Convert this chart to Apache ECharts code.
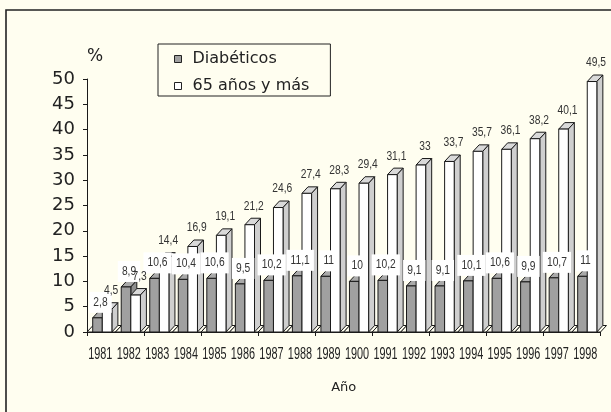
<!DOCTYPE html>
<html>
<head>
<meta charset="utf-8">
<script src="https://cdn.jsdelivr.net/npm/echarts@6/dist/echarts.min.js"></script>
<style>
  html, body { margin: 0; padding: 0; background: #fffef0; }
  #chart { width: 611px; height: 412px; }
</style>
</head>
<body>
<div id="chart"></div>
<script>
// Categories (year labels as printed on the axis)
const years = ['1981', '1982', '1983', '1984', '1985', '1986', '1987', '1988', '1989',
               '1900', '1991', '1992', '1993', '1994', '1995', '1996', '1997', '1998'];
// Percentages per year
const diabeticos = [2.8, 8.9, 10.6, 10.4, 10.6, 9.5, 10.2, 11.1, 11, 10,
                    10.2, 9.1, 9.1, 10.1, 10.6, 9.9, 10.7, 11];
const mayores65 = [4.5, 7.3, 14.4, 16.9, 19.1, 21.2, 24.6, 27.4, 28.3, 29.4,
                   31.1, 33, 33.7, 35.7, 36.1, 38.2, 40.1, 49.5];
// Value axis range
const yMin = 0, yMax = 50, yStep = 5;

const SANS = "'Liberation Sans', Arial, sans-serif";
const HUMAN = "'DejaVu Sans', sans-serif";
const INK = '#1a1a1a';
// depth offset of the pseudo-3D columns
const DX = 6, DY = 6.5;

const fmt = v => String(v).replace('.', ',');

function columnRenderer(slot, colors, boxedLabel) {
  return function (params, api) {
    const idx = api.value(0);
    const val = api.value(1);
    const topPt = api.coord([idx, val]);
    const basePt = api.coord([idx, 0]);
    const band = api.size([1, 0])[0];
    const w = band * 0.336;
    const left = topPt[0] - band * 0.3 + slot * w;
    const right = left + w;
    const yT = topPt[1], yB = basePt[1];
    const children = [];

    if (slot === 0) {
      // floor segment under this category
      const tl = topPt[0] - band / 2, tr = topPt[0] + band / 2;
      children.push({
        type: 'polygon', z2: -10,
        shape: { points: [[tl, yB], [tl + DX, yB - DY], [tr + DX, yB - DY], [tr, yB]] },
        style: { fill: '#fffef0', stroke: INK, lineWidth: 1 }
      });
      // condensed year label under the category
      children.push({
        type: 'text', z2: 100,
        x: topPt[0] - 1, y: yB + 23,
        scaleX: 0.68,
        style: {
          text: years[idx], fontFamily: SANS, fontSize: 16, fill: '#222',
          align: 'center', verticalAlign: 'middle'
        }
      });
    }
    // top face
    children.push({
      type: 'polygon',
      shape: { points: [[left, yT], [left + DX, yT - DY], [right + DX, yT - DY], [right, yT]] },
      style: { fill: colors.top, stroke: INK, lineWidth: 1 }
    });
    // side face
    children.push({
      type: 'polygon',
      shape: { points: [[right, yT], [right + DX, yT - DY], [right + DX, yB - DY], [right, yB]] },
      style: { fill: colors.side, stroke: INK, lineWidth: 1 }
    });
    // front face
    children.push({
      type: 'rect',
      shape: { x: left, y: yT, width: w, height: yB - yT },
      style: { fill: colors.front, stroke: INK, lineWidth: 1 }
    });
    // value label
    const labelStyle = {
      text: fmt(val),
      fontFamily: SANS, fontSize: 12.5, fill: '#333',
      align: 'center', verticalAlign: 'bottom'
    };
    if (boxedLabel) {
      labelStyle.backgroundColor = '#ffffff';
      labelStyle.padding = [4, 5, 4, 5];
    }
    children.push({
      type: 'text', z2: 100,
      x: (left + right) / 2 + (boxedLabel ? 3 : 4),
      y: yT - (boxedLabel ? 5 : 12),
      scaleX: 0.82,
      style: labelStyle
    });
    return { type: 'group', children };
  };
}

const chart = echarts.init(document.getElementById('chart'), null, { renderer: 'canvas' });

chart.setOption({
  backgroundColor: '#fffef0',
  animation: false,
  grid: { left: 87, right: 10.5, top: 79, bottom: 80 },
  legend: {
    orient: 'vertical',
    left: 158, top: 44,
    padding: [7, 21, 2, 16],
    itemWidth: 7, itemHeight: 7, itemGap: 11,
    borderColor: '#222', borderWidth: 1,
    backgroundColor: 'transparent',
    textStyle: { fontFamily: HUMAN, fontSize: 16, color: '#222', padding: [0, 0, 0, 6] },
    data: [
      { name: 'Diabéticos', icon: 'rect', itemStyle: { color: '#a0a0a0', borderColor: '#222', borderWidth: 1 } },
      { name: '65 años y más', icon: 'rect', itemStyle: { color: '#ffffff', borderColor: '#222', borderWidth: 1 } }
    ]
  },
  xAxis: {
    type: 'category',
    data: years,
    name: 'Año',
    nameLocation: 'middle',
    nameGap: 49,
    nameTextStyle: { fontFamily: HUMAN, fontSize: 13, color: '#222' },
    axisLine: { lineStyle: { color: INK, width: 1 } },
    axisTick: { show: true, length: 4, lineStyle: { color: INK } },
    axisLabel: { show: false },
    splitLine: { show: false }
  },
  yAxis: {
    type: 'value',
    min: yMin, max: yMax, interval: yStep,
    name: '%',
    nameLocation: 'end',
    nameGap: 14,
    nameTextStyle: { fontFamily: HUMAN, fontSize: 17, color: '#222', align: 'left' },
    axisLine: { show: true, lineStyle: { color: INK, width: 1 } },
    axisTick: { show: true, length: 4, lineStyle: { color: INK } },
    axisLabel: { fontFamily: HUMAN, fontSize: 18, color: '#222', margin: 12 },
    splitLine: { show: false }
  },
  graphic: [{
    type: 'rect', silent: true, z: -1,
    shape: { x: 6, y: 10, width: 620, height: 420 },
    style: { fill: 'none', stroke: '#222', lineWidth: 1.6 }
  }],
  series: [
    {
      type: 'custom', name: 'Diabéticos',
      itemStyle: { color: '#a0a0a0' },
      renderItem: columnRenderer(0, { front: '#a0a0a0', top: '#a9a9a9', side: '#8e8e8e' }, true),
      data: diabeticos.map((v, i) => [i, v])
    },
    {
      type: 'custom', name: '65 años y más',
      itemStyle: { color: '#ffffff' },
      renderItem: columnRenderer(1, { front: '#ffffff', top: '#d9d9d9', side: '#cfcfcf' }, false),
      data: mayores65.map((v, i) => [i, v])
    }
  ]
});
</script>
</body>
</html>
